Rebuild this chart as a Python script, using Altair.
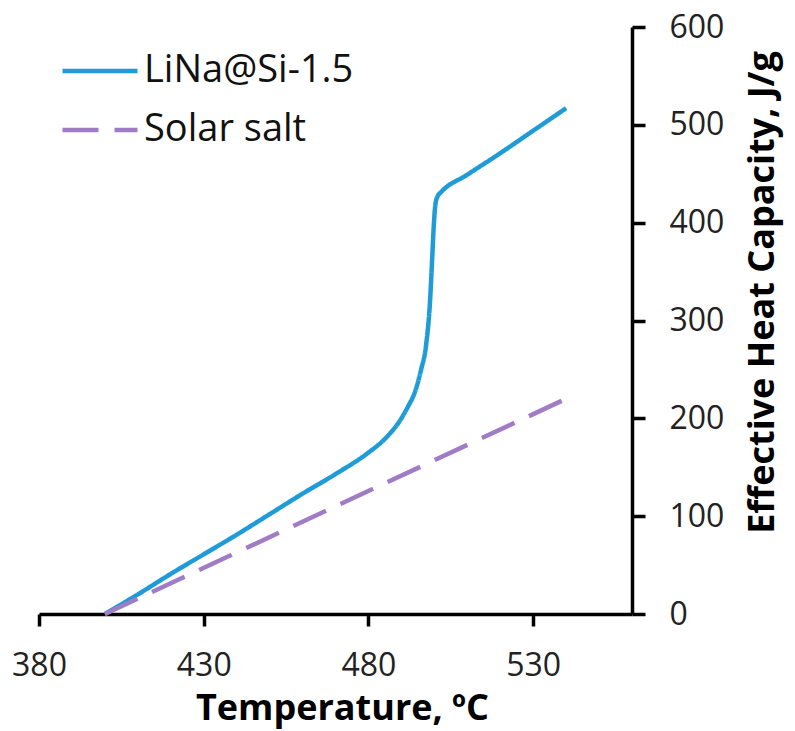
import altair as alt
import pandas as pd

series_names = ["LiNa@Si-1.5", "Solar salt"]

li_temp = [400, 410, 420, 430, 440, 450, 460, 470, 480, 485, 490, 492, 494, 496, 497.5, 498.7, 499.3, 499.8, 500.3, 501, 502, 510, 520, 530, 540]
li_cap = [0, 20, 41, 61, 81, 102, 123, 143, 165, 179, 200, 212, 226, 250, 275, 320, 360, 395, 418, 427, 431, 449, 471, 494, 517]

salt_temp = [400, 540]
salt_cap = [0, 220]

x_ticks = [380, 430, 480, 530]
y_ticks = [0, 100, 200, 300, 400, 500, 600]

rows = []
for i, (t, c) in enumerate(zip(li_temp, li_cap)):
    rows.append({"series": series_names[0], "T": t, "C": c, "o": i})
for i, (t, c) in enumerate(zip(salt_temp, salt_cap)):
    rows.append({"series": series_names[1], "T": t, "C": c, "o": i})
df = pd.DataFrame(rows)

FONT = "Open Sans"

chart = alt.Chart(df).mark_line(interpolate="monotone", strokeWidth=4.5).encode(
    x=alt.X("T:Q",
            scale=alt.Scale(domain=[380, 560], nice=False, zero=False),
            axis=alt.Axis(values=x_ticks, title="Temperature, ºC", grid=False,
                          domainColor="black", domainWidth=3.5,
                          tickColor="black", tickWidth=3.5, tickSize=12,
                          labelFont=FONT, labelFontSize=32, labelColor="#222",
                          labelPadding=24, labelFlush=False,
                          titleFont=FONT, titleFontSize=36, titleFontWeight="bold",
                          titleColor="black", titleX=303, titleY=94,
                          titleBaseline="middle", titleAlign="center")),
    y=alt.Y("C:Q",
            scale=alt.Scale(domain=[0, 600], nice=False),
            axis=alt.Axis(orient="right", values=y_ticks,
                          title="Effective Heat Capacity, J/g", grid=False,
                          domainColor="black", domainWidth=3.5,
                          tickColor="black", tickWidth=3.5, tickSize=13,
                          labelFont=FONT, labelFontSize=32, labelColor="#222",
                          labelPadding=24, labelFlush=False, labelAlign="left",
                          titleFont=FONT, titleFontSize=36, titleFontWeight="bold",
                          titleColor="black", titleAngle=270, titleX=130, titleY=265,
                          titleBaseline="middle", titleAlign="center", titleLimit=0)),
    color=alt.Color("series:N",
                    scale=alt.Scale(domain=series_names, range=["#1f9bd7", "#a07cc6"]),
                    legend=alt.Legend(title=None, orient="none", legendX=21, legendY=4,
                                      symbolType="stroke", symbolSize=5625,
                                      symbolStrokeWidth=4.5, labelFont=FONT,
                                      labelFontSize=38, labelColor="#111", labelLimit=0,
                                      labelOffset=4, rowPadding=-17)),
    strokeDash=alt.StrokeDash("series:N",
                              scale=alt.Scale(domain=series_names, range=[[1, 0], [36, 16]]),
                              legend=None),
    order="o:Q",
).properties(
    width=593, height=587,
    autosize=alt.AutoSizeParams(type="none"),
    padding={"left": 31, "top": 19, "right": 155, "bottom": 115},
).configure_view(stroke=None)

chart.save("out.html", embed_options={"renderer": "svg", "actions": False})
